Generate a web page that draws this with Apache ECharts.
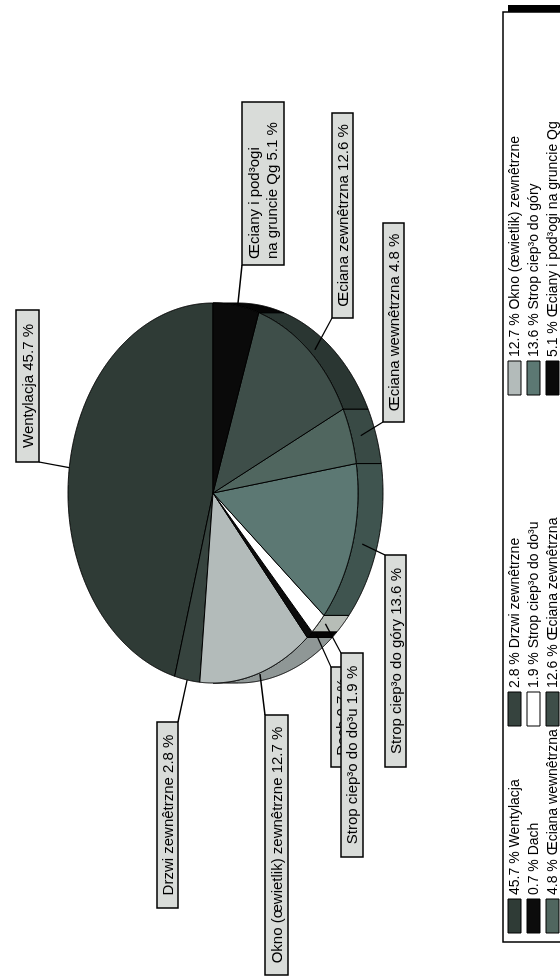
<!DOCTYPE html>
<html>
<head>
<meta charset="utf-8">
<script src="https://cdn.jsdelivr.net/npm/echarts@6/dist/echarts.min.js"></script>
<style>
  html, body { margin: 0; padding: 0; background: #ffffff; width: 560px; height: 977px; overflow: hidden; }
  /* The chart is laid out landscape and turned a quarter turn so its text reads bottom to top */
  #chart { position: absolute; left: 0; top: 0; width: 977px; height: 560px;
           transform-origin: 0 0; transform: translate(0, 977px) rotate(-90deg); }
</style>
</head>
<body>
<div id="chart"></div>
<script>
// Heat-loss shares of a building, in percent
const categories = [
  'Wentylacja',
  'Drzwi zewnêtrzne',
  'Okno (œwietlik) zewnêtrzne',
  'Dach',
  'Strop ciep³o do do³u',
  'Strop ciep³o do góry',
  'Œciana wewnêtrzna',
  'Œciana zewnêtrzna',
  'Œciany i pod³ogi na gruncie Qg'
];
const shares = [45.7, 2.8, 12.7, 0.7, 1.9, 13.6, 4.8, 12.6, 5.1];

// Fill of the top face and of the shaded rim for each slice
const topColors  = ['#2f3b36', '#36433e', '#b3bbba', '#0c0c0c', '#ffffff', '#5c7873', '#50665f', '#3e4e49', '#0a0a0a'];
const sideColors = ['#222b27', '#27312d', '#8f9796', '#050505', '#b7bdb7', '#3f544f', '#394a45', '#2a3632', '#050505'];

// Callout boxes: [left, top, width, height] in the landscape frame
const calloutBoxes = [
  [515, 16, 152, 23],
  [69, 157, 186, 21],
  [2, 265, 260, 23],
  [210, 331, 100, 22],
  [120, 341, 204, 22],
  [210, 385, 212, 21],
  [555, 383, 199, 21],
  [659, 332, 205, 21],
  [712, 242, 163, 42]
];
const calloutBreakAfter = { 8: 'pod³ogi ' };

const FONT = '15px "Liberation Sans", Arial, sans-serif';
const LEGEND_FONT = '14px "Liberation Sans", Arial, sans-serif';
const PIE = { cx: 484, cy: 213, rx: 190, ry: 145, depth: 25 };
const tilt = PIE.ry / PIE.rx;

const total = shares.reduce((a, b) => a + b, 0);
const starts = [];
let acc = 0;
shares.forEach(v => { starts.push(acc); acc += v; });

function fmt(v) { return v.toFixed(1); }

function calloutText(i) {
  let t = categories[i] + ' ' + fmt(shares[i]) + ' %';
  if (calloutBreakAfter[i]) t = t.replace(calloutBreakAfter[i], calloutBreakAfter[i].trim() + '\n');
  return t;
}

function renderSlice(params, api) {
  const a0 = api.value(0), a1 = api.value(1), i = api.value(2);
  const c = api.coord([0, 0]);
  const P = (a, dz) => {
    const p = api.coord([1, a]);
    return [p[0], c[1] + (p[1] - c[1]) * tilt + (dz || 0)];
  };
  const n = Math.max(2, Math.ceil((a1 - a0) / total * 1440));
  const arc = [];
  for (let k = 0; k <= n; k++) arc.push(P(a0 + (a1 - a0) * k / n));

  const children = [];

  // rim of the slice where it faces the viewer
  let run = [];
  const runs = [];
  arc.forEach(p => {
    if (p[1] >= c[1] - 0.01) run.push(p);
    else if (run.length) { runs.push(run); run = []; }
  });
  if (run.length) runs.push(run);
  runs.forEach(r => {
    if (r.length < 2) return;
    const bottom = r.map(p => [p[0], p[1] + PIE.depth]).reverse();
    children.push({
      type: 'polygon', z2: 1,
      shape: { points: r.concat(bottom) },
      style: { fill: sideColors[i], stroke: '#000', lineWidth: 1 }
    });
  });

  // top face
  children.push({
    type: 'polygon', z2: 2,
    shape: { points: [c].concat(arc) },
    style: { fill: topColors[i], stroke: '#000', lineWidth: 1, lineJoin: 'round' }
  });

  // callout with leader line
  const mid = a0 + (a1 - a0) / 2;
  const edge = P(mid);
  const front = (edge[1] - c[1]) / PIE.ry;
  if (front > 0) edge[1] += PIE.depth * 0.4 * front;
  const [bx, by, bw, bh] = calloutBoxes[i];
  const corners = [[bx, by], [bx + bw, by], [bx, by + bh], [bx + bw, by + bh]];
  let best = corners[0], bd = Infinity;
  corners.forEach(q => {
    const d = (q[0] - edge[0]) ** 2 + (q[1] - edge[1]) ** 2;
    if (d < bd) { bd = d; best = q; }
  });
  const multi = !!calloutBreakAfter[i];
  children.push({
    type: 'line', z2: 10 + 3 * i,
    shape: { x1: best[0], y1: best[1], x2: edge[0], y2: edge[1] },
    style: { stroke: '#000', lineWidth: 1.3 }
  });
  children.push({
    type: 'rect', z2: 11 + 3 * i,
    shape: { x: bx, y: by, width: bw, height: bh },
    style: { fill: '#d9dcd9', stroke: '#000', lineWidth: 1.5 }
  });
  children.push({
    type: 'text', z2: 12 + 3 * i,
    style: {
      text: calloutText(i),
      x: multi ? bx + 6 : bx + bw / 2,
      y: by + bh / 2 + 1,
      align: multi ? 'left' : 'center',
      verticalAlign: 'middle',
      font: FONT, fill: '#000', lineHeight: 18
    }
  });

  return { type: 'group', children };
}

// Legend: three columns, items laid out row by row
const legendCols = [44, 251, 582];
const legendRows = [508, 527, 546];
const legendGraphics = [
  { type: 'rect', shape: { x: 40, y: 508, width: 932, height: 120 }, style: { fill: '#000' }, z: 1 },
  { type: 'rect', shape: { x: 35, y: 503, width: 930, height: 120 }, style: { fill: '#fff', stroke: '#000', lineWidth: 1.5 }, z: 2 }
];
categories.forEach((name, i) => {
  const x = legendCols[i % 3], y = legendRows[Math.floor(i / 3)];
  legendGraphics.push({
    type: 'rect', z: 3,
    shape: { x: x, y: y, width: 34, height: 13 },
    style: { fill: topColors[i], stroke: '#000', lineWidth: 1 }
  });
  legendGraphics.push({
    type: 'text', z: 3, x: x + 38, y: y + 7,
    style: { text: fmt(shares[i]) + ' % ' + name, font: LEGEND_FONT, fill: '#000', verticalAlign: 'middle' }
  });
});

const chart = echarts.init(document.getElementById('chart'), null, { renderer: 'canvas' });
chart.setOption({
  animation: false,
  backgroundColor: '#ffffff',
  polar: { center: [PIE.cx, PIE.cy], radius: PIE.rx },
  angleAxis: { type: 'value', min: 0, max: total, startAngle: 0, clockwise: false, show: false },
  radiusAxis: { type: 'value', min: 0, max: 1, show: false },
  series: [{
    type: 'custom',
    coordinateSystem: 'polar',
    name: 'Straty ciep³a',
    data: shares.map((v, i) => ({ name: categories[i], value: [starts[i], starts[i] + v, i] })),
    renderItem: renderSlice
  }],
  graphic: legendGraphics
});
</script>
</body>
</html>
